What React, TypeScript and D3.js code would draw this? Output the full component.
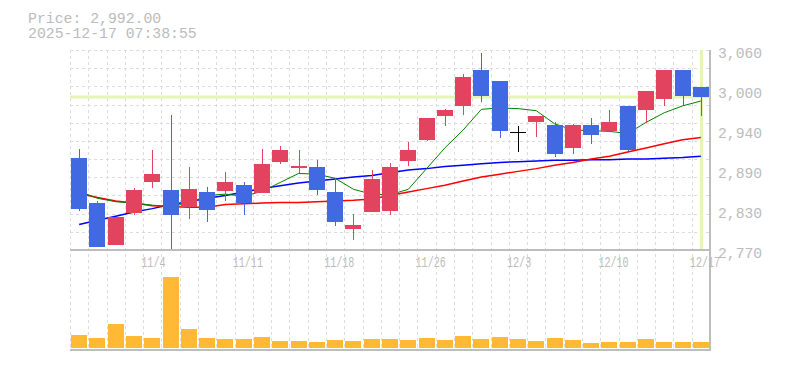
import * as d3 from 'd3';

const dates = [
  '10/28', '10/29', '10/30', '10/31', '11/4', '11/5', '11/6', '11/7', '11/10', '11/11',
  '11/12', '11/13', '11/14', '11/17', '11/18', '11/19', '11/20', '11/21', '11/25', '11/26',
  '11/27', '11/28', '12/1', '12/2', '12/3', '12/4', '12/5', '12/8', '12/9', '12/10',
  '12/11', '12/12', '12/15', '12/16', '12/17',
];
const opens = [
  2903, 2838, 2777, 2824, 2869, 2857, 2832, 2854, 2855, 2864,
  2853, 2898, 2889, 2890, 2854, 2800, 2825, 2827, 2899, 2930,
  2964, 2979, 3031, 3015, 2941, 2956, 2951, 2918, 2951, 2943,
  2979, 2973, 2989, 3031, 3006,
];
const highs = [
  2916, 2841, 2818, 2860, 2915, 2966, 2890, 2861, 2883, 2869,
  2916, 2921, 2915, 2900, 2874, 2822, 2886, 2896, 2927, 2961,
  2975, 3025, 3056, 3015, 2950, 2964, 2956, 2953, 2961, 2973,
  2979, 3001, 3031, 3031, 3006,
];
const lows = [
  2827, 2775, 2777, 2821, 2860, 2770, 2815, 2810, 2841, 2821,
  2853, 2895, 2882, 2850, 2805, 2784, 2825, 2821, 2892, 2928,
  2950, 2966, 2985, 2932, 2912, 2934, 2905, 2909, 2924, 2943,
  2913, 2954, 2979, 2980, 2964,
];
const closes = [
  2830, 2775, 2818, 2857, 2880, 2821, 2858, 2828, 2869, 2838,
  2895, 2915, 2892, 2857, 2811, 2806, 2873, 2890, 2915, 2961,
  2973, 3021, 2993, 2943, 2941, 2964, 2909, 2951, 2937, 2956,
  2915, 3001, 3031, 2993, 2992,
];
// thousand shares
const volumes = [
  127, 97, 237, 117, 97, 710, 187, 97, 87, 87,
  107, 67, 67, 57, 77, 67, 87, 87, 77, 97,
  77, 117, 87, 107, 87, 67, 97, 77, 47, 57,
  57, 87, 57, 57, 57,
];
const ma5 = [
  2855, 2845, 2840, 2838, 2835, 2833, 2838, 2849, 2851, 2848,
  2855, 2868, 2881, 2880, 2874, 2858, 2851, 2850, 2858, 2888,
  2918, 2944, 2974, 2976, 2975, 2972, 2953, 2944, 2943, 2942,
  2939, 2955, 2969, 2979, 2986,
];
const ma25 = [
  2852, 2846, 2841, 2838, 2834, 2833, 2832, 2832, 2836, 2837,
  2838, 2839, 2839, 2840, 2841, 2842, 2844, 2849, 2854, 2859,
  2864, 2870, 2876, 2880, 2884, 2888, 2893, 2897, 2902, 2906,
  2912, 2918, 2924, 2930, 2933,
];
const ma75 = [
  2807, 2813, 2819, 2825, 2830, 2836, 2840, 2845, 2849, 2854,
  2859, 2863, 2867, 2870, 2873, 2876, 2878, 2882, 2886, 2888,
  2891, 2893, 2895, 2897, 2898, 2899, 2900, 2900, 2901, 2901,
  2902, 2902, 2903, 2904, 2906,
];
const yTickValues = [3060, 3002, 2944, 2886, 2828, 2770];
const xLabelDates = ['11/4', '11/11', '11/18', '11/26', '12/3', '12/10', '12/17'];
const lastPrice = 2992;
const timestamp = '2025-12-17 07:38:55';

const W = 785;
const H = 370;
const LEFT = 70;
const RIGHT = 710;
const P_TOP = 50;
const P_BOTTOM = 250;
const V_BOTTOM = 350;

const UP = '#e2435f';
const DOWN = '#4169e1';
const GRID = '#dcdcdc';
const AXIS = '#bdbdbd';
const TEXT = '#bbbbbb';
const NOW = '#e4f5b5';
const FONT = '"Liberation Mono", "DejaVu Sans Mono", monospace';

export default function App() {
  const x = d3.scaleBand<string>().domain(dates).range([LEFT, RIGHT])
    .paddingInner(0.125).paddingOuter(0.0625);
  const step = x.step();
  const bw = x.bandwidth();
  const cx = (d: string) => (x(d) ?? 0) + bw / 2;
  const px = (d: string) => Math.round(cx(d)) + 0.5;

  const y = d3.scaleLinear().domain([2770, 3060]).range([P_BOTTOM, P_TOP]);
  const yv = d3.scaleLinear().domain([0, 800]).range([348, 268]);

  const maLine = d3.line<number>()
    .x((_, i) => cx(dates[i]))
    .y(v => y(v));

  const fmt = d3.format(',');
  const vGrid = d3.range(dates.length).map(i => Math.round(LEFT + i * step) + 0.5);
  const hGrid = d3.range(11).map(k => Math.round(P_TOP + k * (P_BOTTOM - P_TOP) / 11) + 0.5);
  const lastX = px(dates[dates.length - 1]);

  return (
    <svg width={W} height={H} style={{ position: 'absolute', left: 0, top: 0, background: '#fff' }}>
      {/* grid */}
      <g stroke={GRID} strokeWidth={1} strokeDasharray="3,3">
        {vGrid.map((gx, i) => (
          <line key={'v' + i} x1={gx} x2={gx} y1={P_TOP} y2={V_BOTTOM} />
        ))}
        {hGrid.map((gy, i) => (
          <line key={'h' + i} x1={LEFT} x2={RIGHT} y1={gy} y2={gy} />
        ))}
      </g>

      {/* current price / time markers */}
      <line x1={LEFT} x2={RIGHT} y1={y(lastPrice)} y2={y(lastPrice)} stroke={NOW} strokeWidth={3} />
      <line x1={lastX} x2={lastX} y1={P_TOP} y2={P_BOTTOM} stroke={NOW} strokeWidth={3} />

      {/* moving averages */}
      <path d={maLine(ma75) ?? ''} fill="none" stroke="#0000ff" strokeWidth={1.5} />
      <path d={maLine(ma25) ?? ''} fill="none" stroke="#ff0000" strokeWidth={1.5} />
      <path d={maLine(ma5) ?? ''} fill="none" stroke="#008000" strokeWidth={1} />

      {/* candles */}
      <g shapeRendering="crispEdges">
        {dates.map((d, i) => {
          const o = opens[i];
          const c = closes[i];
          const color = c > o ? UP : c < o ? DOWN : '#000';
          const top = y(Math.max(o, c));
          const bot = y(Math.min(o, c));
          return (
            <g key={d}>
              <line x1={px(d)} x2={px(d)} y1={y(highs[i])} y2={y(lows[i])} stroke={color} strokeWidth={1} />
              {c === o ? (
                <line x1={x(d)} x2={(x(d) ?? 0) + bw} y1={Math.round(top) + 0.5} y2={Math.round(top) + 0.5}
                  stroke={color} strokeWidth={1} />
              ) : (
                <rect x={x(d)} y={top} width={bw} height={Math.max(1, bot - top)} fill={color} />
              )}
            </g>
          );
        })}
      </g>

      {/* volume */}
      <g shapeRendering="crispEdges">
        {dates.map((d, i) => (
          <rect key={d} x={x(d)} y={yv(volumes[i])} width={bw} height={yv(0) - yv(volumes[i])} fill="#ffb934" />
        ))}
      </g>

      {/* frame */}
      <g stroke={AXIS} strokeWidth={2} shapeRendering="crispEdges">
        <line x1={LEFT} x2={RIGHT} y1={P_BOTTOM} y2={P_BOTTOM} />
        <line x1={LEFT} x2={RIGHT + 1} y1={V_BOTTOM} y2={V_BOTTOM} />
        <line x1={RIGHT} x2={RIGHT} y1={P_TOP} y2={V_BOTTOM} />
      </g>

      {/* y axis labels */}
      <g fontFamily={FONT} fontSize={14.7} fill={TEXT}>
        {yTickValues.map(v => (
          <text key={v} x={718} y={y(v) + 7.5}>{fmt(Math.round(v / 10) * 10)}</text>
        ))}
      </g>

      {/* x axis labels */}
      <g fontFamily={FONT} fontSize={14} fill={TEXT}>
        {xLabelDates.map(d => (
          <text key={d} x={cx(d) - 11} y={267} textLength={d.length * 6.05} lengthAdjust="spacingAndGlyphs">{d}</text>
        ))}
      </g>

      {/* header */}
      <g fontFamily={FONT} fontSize={14.8} fill={TEXT}>
        <text x={28} y={23}>{`Price: ${d3.format(',.2f')(lastPrice)}`}</text>
        <text x={28} y={37.5}>{timestamp}</text>
      </g>
    </svg>
  );
}
